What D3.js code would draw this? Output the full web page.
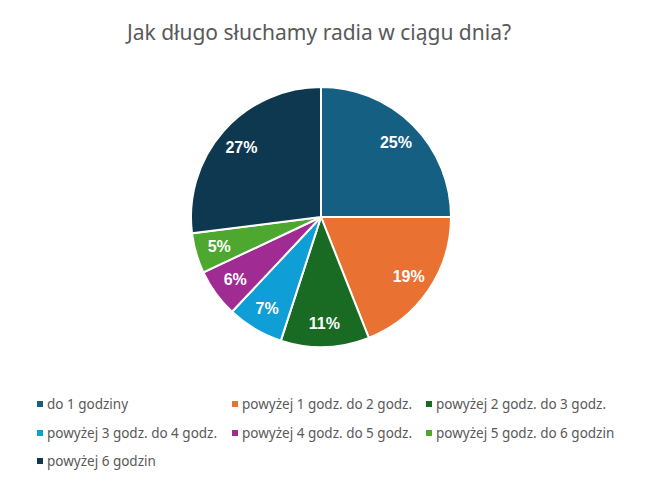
<!DOCTYPE html>
<html>
<head>
<meta charset="utf-8">
<script src="https://cdn.jsdelivr.net/npm/d3@7"></script>
<style>
  body { margin: 0; background: #fff; }
  svg { display: block; }
</style>
</head>
<body>
<svg width="667" height="496"></svg>
<script>
// chart data
var title = "Jak długo słuchamy radia w ciągu dnia?";
var categories = [
  "do 1 godziny",
  "powyżej 1 godz. do 2 godz.",
  "powyżej 2 godz. do 3 godz.",
  "powyżej 3 godz. do 4 godz.",
  "powyżej 4 godz. do 5 godz.",
  "powyżej 5 godz. do 6 godzin",
  "powyżej 6 godzin"
];
var shares = [25, 19, 11, 7, 6, 5, 27];
var colors = ["#156082", "#E97132", "#196B24", "#0F9ED5", "#A02B93", "#4EA72E", "#0E384F"];

var svg = d3.select("svg");
var cx = 321, cy = 217, r = 130;

svg.append("text")
  .attr("x", 319)
  .attr("y", 40)
  .attr("text-anchor", "middle")
  .style("font-family", "'Noto Sans', sans-serif")
  .style("font-size", "21px")
  .attr("fill", "#595959")
  .text(title);

var pie = d3.pie().sort(null).value(d => d);
var arcs = pie(shares);
var arc = d3.arc().innerRadius(0).outerRadius(r);
var labelArc = d3.arc().innerRadius(106).outerRadius(106);

var g = svg.append("g").attr("transform", "translate(" + cx + "," + cy + ")");

g.selectAll("path")
  .data(arcs)
  .join("path")
  .attr("d", arc)
  .attr("fill", (d, i) => colors[i])
  .attr("stroke", "#fff")
  .attr("stroke-width", 2);

g.selectAll("text")
  .data(arcs)
  .join("text")
  .attr("transform", d => "translate(" + labelArc.centroid(d) + ")")
  .attr("text-anchor", "middle")
  .attr("dy", "0.35em")
  .style("font-family", "'Liberation Sans', Arial, sans-serif")
  .style("font-weight", "bold")
  .style("font-size", "16px")
  .attr("fill", "#fff")
  .text(d => d.data + "%");

// legend, 3 columns
var colX = [37, 232, 426];
var rowY = [404, 433, 461];

var leg = svg.append("g")
  .selectAll("g")
  .data(categories)
  .join("g")
  .attr("transform", (d, i) => "translate(" + colX[i % 3] + "," + rowY[Math.floor(i / 3)] + ")");

leg.append("rect")
  .attr("x", 0)
  .attr("y", -3)
  .attr("width", 6)
  .attr("height", 6)
  .attr("fill", (d, i) => colors[i]);

leg.append("text")
  .attr("x", 10)
  .attr("dy", "0.35em")
  .style("font-family", "'Noto Sans', sans-serif")
  .style("font-size", "13.5px")
  .attr("fill", "#595959")
  .text(d => d);
</script>
</body>
</html>
